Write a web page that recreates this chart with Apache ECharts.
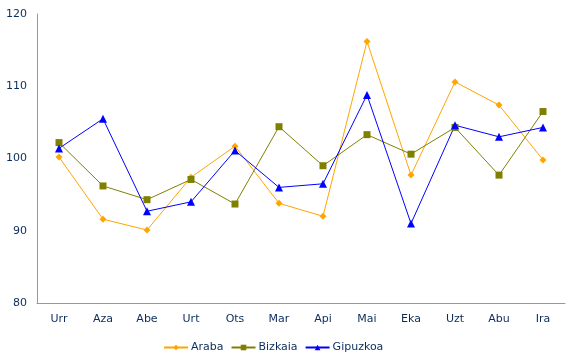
<!DOCTYPE html>
<html><head><meta charset="utf-8">
<script src="https://cdn.jsdelivr.net/npm/echarts@6/dist/echarts.min.js"></script>
<style>html,body{margin:0;padding:0;background:#fff}#c{width:568px;height:360px}</style>
</head><body><div id="c"></div>
<script>
const categories = ['Urr','Aza','Abe','Urt','Ots','Mar','Api','Mai','Eka','Uzt','Abu','Ira'];
const araba = [100.2,91.6,90.1,97.4,101.7,93.8,92.0,116.2,97.7,110.6,107.4,99.8];
const bizkaia = [102.2,96.2,94.3,97.1,93.7,104.4,99.0,103.3,100.6,104.3,97.7,106.5];
const gipuzkoa = [101.4,105.5,92.7,94.0,101.1,96.0,96.5,108.8,91.0,104.6,103.0,104.3];
const yTicks = {min:80,max:120,interval:10};

const chart = echarts.init(document.getElementById('c'));
const txt = {color:'#0a2d5c', fontFamily:'DejaVu Sans', fontSize:11};
function s(name,data,color,symbol,size){
  return {name,type:'line',data,symbol,symbolSize:size,showSymbol:true,
    lineStyle:{color,width:1},itemStyle:{color},animation:false};
}
chart.setOption({
  animation:false,
  grid:{left:37,right:3,top:14,bottom:57},
  xAxis:{type:'category',data:categories,boundaryGap:true,
    axisLine:{lineStyle:{color:'#999'}},axisTick:{show:false},
    axisLabel:Object.assign({margin:11},txt)},
  yAxis:{type:'value',min:yTicks.min,max:yTicks.max,interval:yTicks.interval,
    axisLine:{show:true,lineStyle:{color:'#999'}},axisTick:{show:false},splitLine:{show:false},
    axisLabel:Object.assign({margin:10},txt)},
  legend:{top:337,left:158,itemWidth:24,itemHeight:7,itemGap:7,
    textStyle:Object.assign({padding:[0,0,0,-2]},txt),
    data:['Araba','Bizkaia','Gipuzkoa']},
  series:[
    s('Araba',araba,'#ffa500','diamond',7),
    s('Bizkaia',bizkaia,'#808000','rect',7),
    s('Gipuzkoa',gipuzkoa,'#0000ff','triangle',8)
  ]
});
</script></body></html>
